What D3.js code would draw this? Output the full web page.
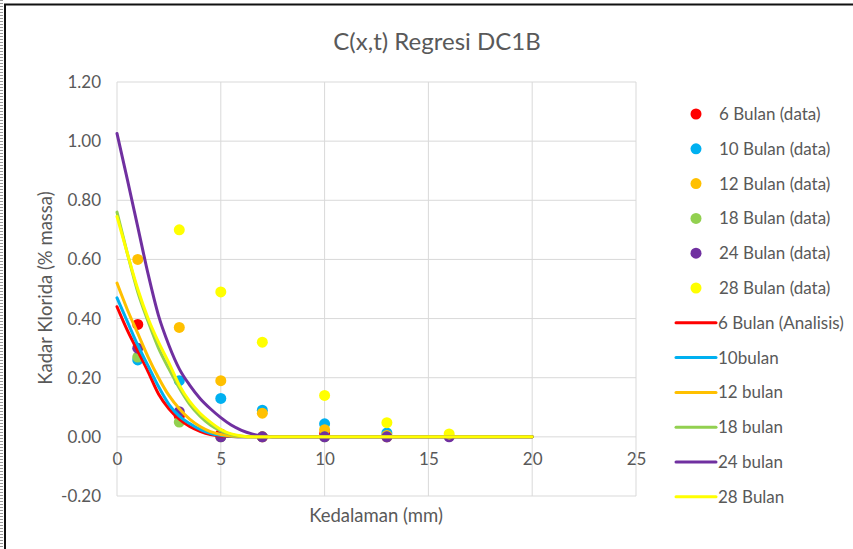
<!DOCTYPE html>
<html>
<head>
<meta charset="utf-8">
<script src="https://cdn.jsdelivr.net/npm/d3@7"></script>
<style>
  body { margin:0; background:#fff; }
  text { font-family: Lato, "Open Sans", sans-serif; fill:#595959; }
</style>
</head>
<body>
<svg id="chart" width="853" height="549"></svg>
<script>
// depth (mm) where the measured data were taken
var dataDepth = [1, 3, 5, 7, 10, 13, 16];

// measured chloride (% massa), null = no point
var data6  = [0.38, 0.07, 0.01, 0.00, 0.01, 0.00, null];
var data10 = [0.26, 0.19, 0.13, 0.09, 0.044, 0.013, null];
var data12 = [0.60, 0.37, 0.19, 0.08, 0.024, 0.005, null];
var data18 = [0.27, 0.05, 0.00, 0.00, 0.00, 0.00, null];
var data24 = [0.30, 0.085, 0.00, 0.00, 0.00, 0.00, 0.00];
var data28 = [null, 0.70, 0.49, 0.32, 0.14, 0.048, 0.01];

// depth for the regression curves
var curveDepth = [0, 0.5, 1, 1.5, 2, 2.5, 3, 3.5, 4, 4.5, 5, 5.5, 6, 6.5, 7, 8, 20];

var fit6  = [0.44, 0.36, 0.29, 0.22, 0.145, 0.095, 0.06, 0.035, 0.019, 0.008, 0.003, 0.001, 0, 0, 0, 0, 0];
var fit10 = [0.47, 0.39, 0.31, 0.24, 0.17, 0.11, 0.07, 0.045, 0.025, 0.012, 0.005, 0.002, 0, 0, 0, 0, 0];
var fit12 = [0.52, 0.43, 0.35, 0.27, 0.20, 0.14, 0.095, 0.06, 0.035, 0.018, 0.008, 0.003, 0.001, 0, 0, 0, 0];
var fit18 = [0.76, 0.62, 0.49, 0.39, 0.30, 0.23, 0.165, 0.11, 0.07, 0.04, 0.02, 0.008, 0.002, 0, 0, 0, 0];
var fit24 = [1.026, 0.87, 0.71, 0.55, 0.41, 0.31, 0.23, 0.175, 0.13, 0.095, 0.065, 0.04, 0.022, 0.01, 0.003, 0, 0];
var fit28 = [0.745, 0.62, 0.50, 0.40, 0.32, 0.25, 0.175, 0.12, 0.08, 0.05, 0.025, 0.01, 0.003, 0, 0, 0, 0];

var xTicks = [0, 5, 10, 15, 20, 25];
var yTicks = [-0.2, 0, 0.2, 0.4, 0.6, 0.8, 1.0, 1.2];

var colors = ["#FF0000", "#00B0F0", "#FFC000", "#92D050", "#7030A0", "#FFFF00"];
var dataNames = ["6 Bulan (data)", "10 Bulan (data)", "12 Bulan (data)", "18 Bulan (data)", "24 Bulan (data)", "28 Bulan (data)"];
var fitNames = ["6 Bulan (Analisis)", "10bulan", "12 bulan", "18 bulan", "24 bulan", "28 Bulan"];

var dataSeries = [data6, data10, data12, data18, data24, data28];
var fitSeries = [fit6, fit10, fit12, fit18, fit24, fit28];

var svg = d3.select("#chart");

// frame
svg.append("line")
  .attr("x1", 1.5).attr("x2", 1.5).attr("y1", 0).attr("y2", 549)
  .attr("stroke", "#9a9a9a").attr("stroke-width", 3).attr("stroke-dasharray", "1,2");
svg.append("path")
  .attr("d", "M5,549 V4.5 H853")
  .attr("fill", "none").attr("stroke", "#111").attr("stroke-width", 2);

var margin = { left:117, top:82, right:217, bottom:53 };
var width = 853 - margin.left - margin.right;
var height = 549 - margin.top - margin.bottom;

var g = svg.append("g")
  .attr("transform", "translate(" + margin.left + "," + margin.top + ")");

var x = d3.scaleLinear().domain([0, 25]).range([0, width]);
var y = d3.scaleLinear().domain([-0.2, 1.2]).range([height, 0]);

// grid
g.selectAll(".hgrid").data(yTicks).enter().append("line")
  .attr("x1", 0).attr("x2", width)
  .attr("y1", function(d){ return y(d); }).attr("y2", function(d){ return y(d); })
  .attr("stroke", "#d9d9d9").attr("stroke-width", 1);
g.selectAll(".vgrid").data(xTicks).enter().append("line")
  .attr("y1", 0).attr("y2", height)
  .attr("x1", function(d){ return x(d); }).attr("x2", function(d){ return x(d); })
  .attr("stroke", "#d9d9d9").attr("stroke-width", 1);

// axes (x axis crosses at 0)
var xAxis = g.append("g")
  .attr("transform", "translate(0," + y(0) + ")")
  .call(d3.axisBottom(x).tickValues(xTicks).tickSize(0).tickPadding(16));
xAxis.select(".domain").remove();
xAxis.selectAll("text").style("font-size", "17px").attr("fill", "#595959");

var yAxis = g.append("g")
  .call(d3.axisLeft(y).tickValues(yTicks).tickSize(0).tickPadding(16)
    .tickFormat(function(d){ return d.toFixed(2); }));
yAxis.select(".domain").remove();
yAxis.selectAll("text").style("font-size", "17px").attr("fill", "#595959");

// data points (drawn under the curves)
dataSeries.forEach(function(s, i){
  var pts = dataDepth.map(function(d, j){ return [d, s[j]]; })
    .filter(function(p){ return p[1] !== null; });
  g.selectAll(".pt" + i).data(pts).enter().append("circle")
    .attr("cx", function(d){ return x(d[0]); })
    .attr("cy", function(d){ return y(d[1]); })
    .attr("r", 5.5)
    .attr("fill", colors[i]);
});

// curves
var line = d3.line()
  .x(function(d){ return x(d[0]); })
  .y(function(d){ return y(d[1]); })
  .curve(d3.curveMonotoneX);

fitSeries.forEach(function(s, i){
  g.append("path")
    .datum(curveDepth.map(function(d, j){ return [d, s[j]]; }))
    .attr("fill", "none")
    .attr("stroke", colors[i])
    .attr("stroke-width", 3)
    .attr("stroke-linecap", "round")
    .attr("d", line);
});

// title
svg.append("text")
  .attr("x", 437).attr("y", 50)
  .attr("text-anchor", "middle")
  .style("font-size", "24px")
  .text("C(x,t) Regresi DC1B");

// axis labels
svg.append("text")
  .attr("x", 376).attr("y", 522)
  .attr("text-anchor", "middle")
  .style("font-size", "18.5px")
  .text("Kedalaman (mm)");

svg.append("text")
  .attr("transform", "translate(52,288) rotate(-90)")
  .attr("text-anchor", "middle")
  .style("font-size", "18.5px")
  .text("Kadar Klorida (% massa)");

// legend
var legendY0 = 114, legendStep = 34.8;
var legend = svg.append("g");
dataNames.forEach(function(name, i){
  var ly = legendY0 + i * legendStep;
  legend.append("circle").attr("cx", 696).attr("cy", ly).attr("r", 5.5).attr("fill", colors[i]);
  legend.append("text").attr("x", 719).attr("y", ly + 6).style("font-size", "17px").text(name);
});
fitNames.forEach(function(name, i){
  var ly = legendY0 + (i + 6) * legendStep;
  legend.append("line").attr("x1", 676).attr("x2", 716).attr("y1", ly).attr("y2", ly)
    .attr("stroke", colors[i]).attr("stroke-width", 3).attr("stroke-linecap", "round");
  legend.append("text").attr("x", 718).attr("y", ly + 6).style("font-size", "17px").text(name);
});
</script>
</body>
</html>
